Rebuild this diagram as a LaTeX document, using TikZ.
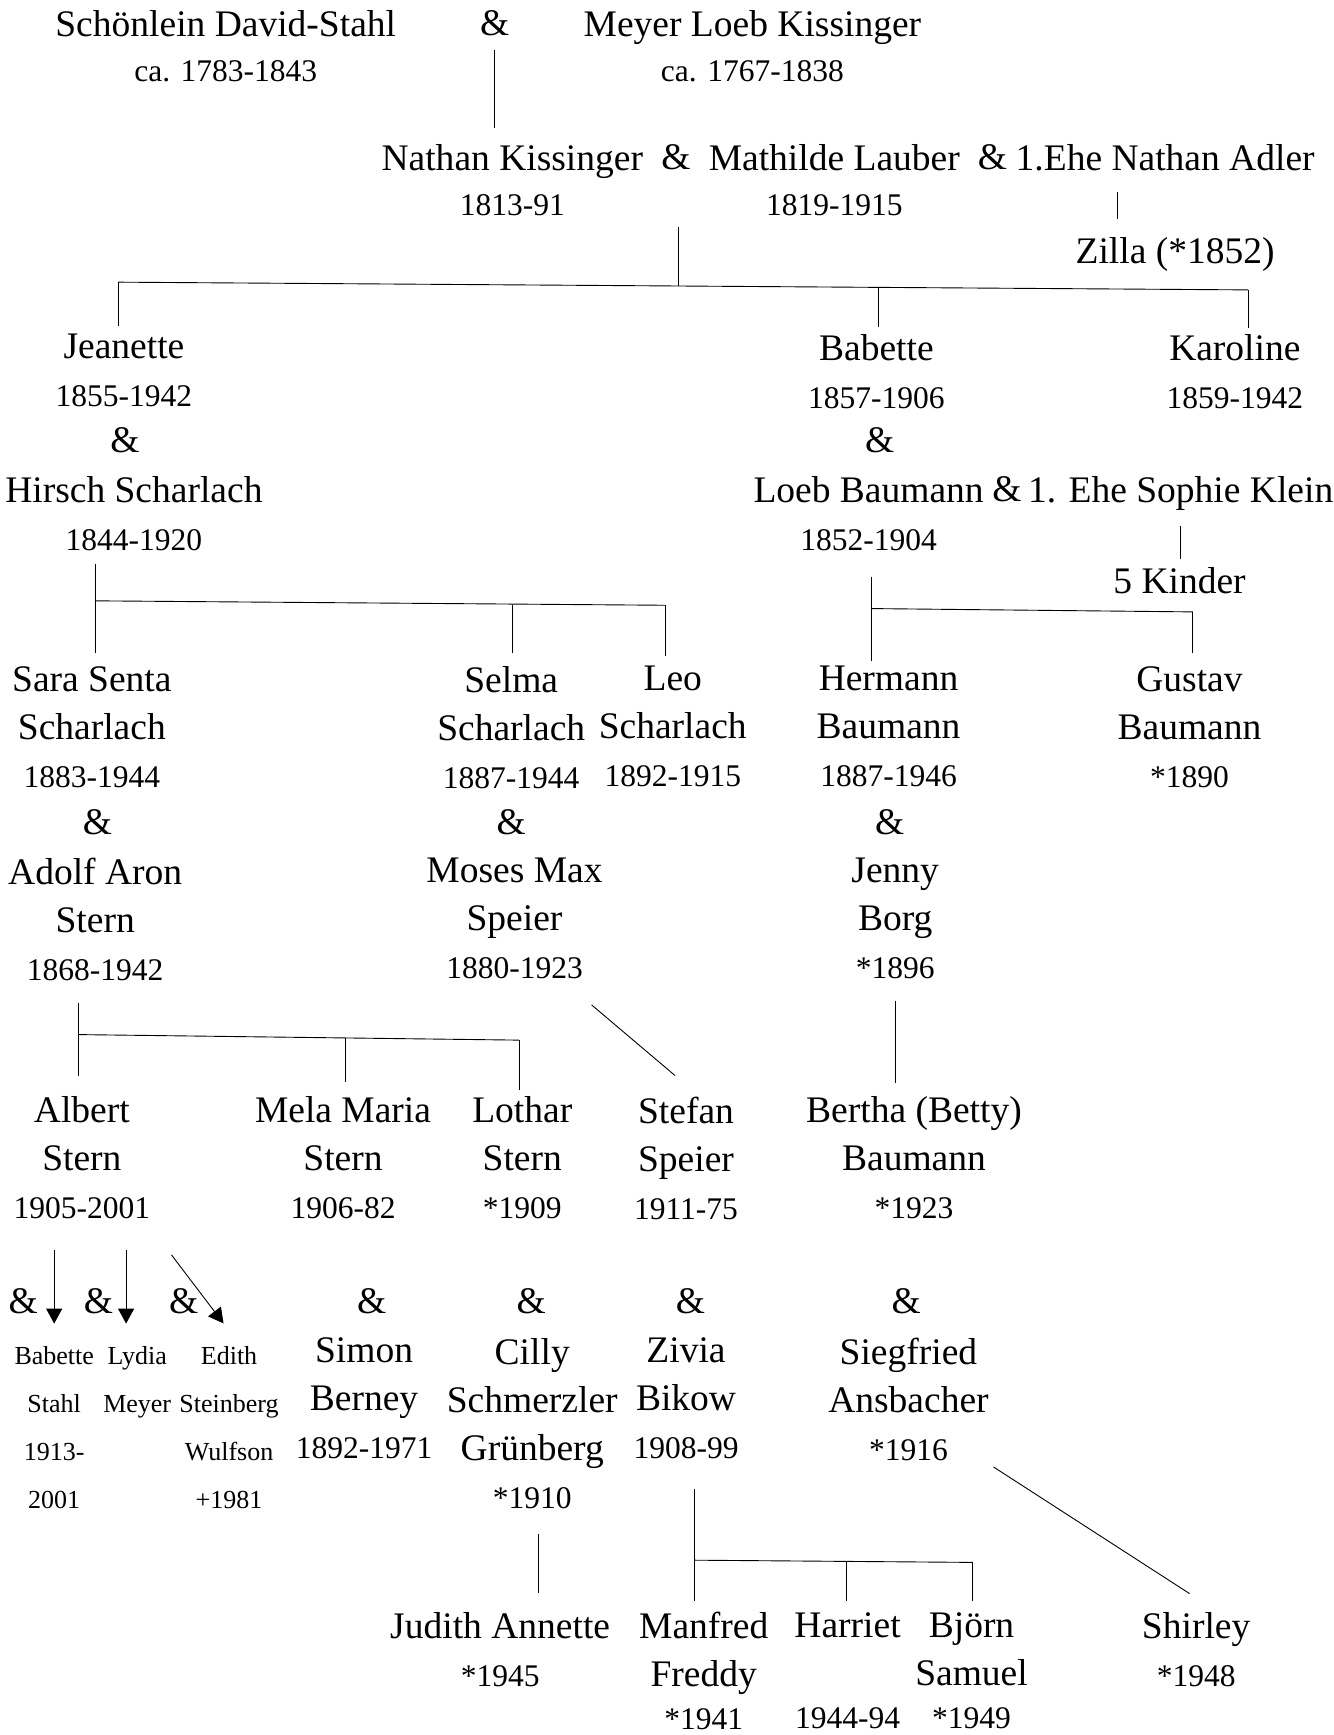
\documentclass[tikz,border=0pt]{standalone}
\usepackage{fontspec}
\setmainfont{Liberation Serif}
\usetikzlibrary{arrows.meta}
\newcommand\namefont{\fontsize{37.5}{48}\selectfont}
\newcommand\datefont{\fontsize{31.5}{48}\selectfont}
\newcommand\smallfont{\fontsize{26}{48}\selectfont}
\newcommand\dates[1]{{\datefont #1}}
\tikzstyle{person} = [align=center, inner sep=0pt, anchor=north, font=\namefont]
\tikzstyle{amp} = [inner sep=0pt, anchor=base, font=\namefont]
\tikzstyle{small} = [person, font=\smallfont]
\tikzstyle{line} = [draw, line width=0.9pt]
\tikzstyle{arrowline} = [line, -{Triangle[length=15pt, width=16pt]}]

\begin{document}
\begin{tikzpicture}[x=1.1062pt, y=-1.1062pt]
    \useasboundingbox (0,0) rectangle (1205,1568);

    % parents of Nathan
    \node [person] (david) at (204,9) {Schönlein David-Stahl\\[-3pt]\dates{ca. 1783-1843}};
    \node [amp] (amp0) at (447,32) {\&};
    \node [person] (meyer) at (680,9) {Meyer Loeb Kissinger\\[-3pt]\dates{ca. 1767-1838}};

    \node [person] (nathan) at (463,130) {Nathan Kissinger\\[-3pt]\dates{1813-91}};
    \node [amp] (amp1) at (611,153) {\&};
    \node [person] (mathilde) at (754,130) {Mathilde Lauber\\[-3pt]\dates{1819-1915}};
    \node [amp] (amp2) at (897,153) {\&};
    \node [person] (adler) at (1053,130) {1.Ehe Nathan Adler};
    \node [person] (zilla) at (1062,214) {Zilla (*1852)};

    % children of Nathan and Mathilde
    \node [person] (jeanette) at (112,302) {Jeanette\\\dates{1855-1942}};
    \node [amp] (amp3) at (113,409) {\&};
    \node [person] (hirsch) at (121,430) {Hirsch Scharlach\\\dates{1844-1920}};
    \node [person] (babette) at (792,302) {Babette\\\dates{1857-1906}};
    \node [amp] (amp4) at (795,409) {\&};
    \node [person] (loeb) at (785,430) {Loeb Baumann\\\dates{1852-1904}};
    \node [amp] (amp5) at (910,453) {\&};
    \node [person] (sophie) at (1067,430) {1. Ehe Sophie Klein};
    \node [person] (kinder) at (1066,513) {5 Kinder};
    \node [person] (karoline) at (1116,302) {Karoline\\\dates{1859-1942}};

    % grandchildren
    \node [person] (sara) at (83,602) {Sara Senta\\Scharlach\\\dates{1883-1944}};
    \node [amp] (amp6) at (88,754) {\&};
    \node [person] (adolf) at (86,775) {Adolf Aron\\Stern\\\dates{1868-1942}};
    \node [person] (selma) at (462,602) {Selma\\Scharlach\\\dates{1887-1944}};
    \node [amp] (amp7) at (462,754) {\&};
    \node [person] (moses) at (465,775) {Moses Max\\Speier\\\dates{1880-1923}};
    \node [person] (leo) at (608,602) {Leo\\Scharlach\\\dates{1892-1915}};
    \node [person] (hermann) at (803,602) {Hermann\\Baumann\\\dates{1887-1946}};
    \node [amp] (amp8) at (804,754) {\&};
    \node [person] (jenny) at (809,775) {Jenny\\Borg\\\dates{*1896}};
    \node [person] (gustav) at (1075,602) {Gustav\\Baumann\\\dates{*1890}};

    \node [person] (albert) at (74,991) {Albert\\Stern\\\dates{1905-2001}};
    \node [person] (mela) at (310,991) {Mela Maria\\Stern\\\dates{1906-82}};
    \node [person] (lothar) at (472,991) {Lothar\\Stern\\\dates{*1909}};
    \node [person] (stefan) at (620,991) {Stefan\\Speier\\\dates{1911-75}};
    \node [person] (bertha) at (826,991) {Bertha (Betty)\\Baumann\\\dates{*1923}};

    % spouses
    \node [amp] (amp9) at (21,1187) {\&};
    \node [amp] (amp10) at (89,1187) {\&};
    \node [amp] (amp11) at (166,1187) {\&};
    \node [amp] (amp12) at (336,1187) {\&};
    \node [amp] (amp13) at (480,1187) {\&};
    \node [amp] (amp14) at (624,1187) {\&};
    \node [amp] (amp15) at (819,1187) {\&};
    \node [small] (babstahl) at (49,1217) {Babette\\Stahl\\1913-\\2001};
    \node [small] (lydia) at (124,1217) {Lydia\\Meyer};
    \node [small] (edith) at (207,1217) {Edith\\Steinberg\\Wulfson\\+1981};
    \node [person] (simon) at (329,1209) {Simon\\Berney\\\dates{1892-1971}};
    \node [person] (cilly) at (481,1209) {Cilly\\Schmerzler\\Grünberg\\\dates{*1910}};
    \node [person] (zivia) at (620,1209) {Zivia\\Bikow\\\dates{1908-99}};
    \node [person] (siegfried) at (821,1209) {Siegfried\\Ansbacher\\\dates{*1916}};

    % great-grandchildren
    \node [person] (judith) at (452,1457) {Judith Annette\\\dates{*1945}};
    \node [person] (manfred) at (636,1457) {Manfred\\Freddy\\[-5pt]\dates{*1941}};
    \node [person] (harriet) at (766,1457) {Harriet\\\mbox{}\\[-5pt]\dates{1944-94}};
    \node [person] (bjoern) at (878,1457) {Björn\\Samuel\\[-5pt]\dates{*1949}};
    \node [person] (shirley) at (1081,1457) {Shirley\\\dates{*1948}};

    % junctions
    \coordinate (kidsL) at (107,255);
    \coordinate (kidsM) at (613,258.5);
    \coordinate (kidsR) at (1128,262);
    \coordinate (babJ) at (794,259.7);
    \coordinate (schJ) at (86,543);
    \coordinate (selJ) at (463,546.5);
    \coordinate (leoJ) at (601,547);
    \coordinate (bauJ) at (788,550);
    \coordinate (gusJ) at (1078,553);
    \coordinate (sternJ) at (71,935);
    \coordinate (melaJ) at (312,937.8);
    \coordinate (lotJ) at (469,940);
    \coordinate (zivJ) at (628,1410);
    \coordinate (harJ) at (765,1411.2);
    \coordinate (bjoJ) at (879,1412);

    \draw [line, shorten <=14pt, shorten >=16pt] (amp0.south) -- (amp0.south |- nathan.north);
    \draw [line, shorten <=21pt, shorten >=18pt] ([xshift=-47.6pt]adler.south) -- ([xshift=-47.6pt]adler.south |- zilla.north);
    \draw [line, shorten <=57pt] (amp1.south -| kidsM) -- (kidsM);
    \draw [line] (kidsL) -- (kidsR);
    \draw [line, shorten >=8pt] (kidsL) -- (kidsL |- jeanette.north);
    \draw [line, shorten >=7.6pt] (babJ) -- (babJ |- babette.north);
    \draw [line, shorten >=6.5pt] (kidsR) -- (kidsR |- karoline.north);

    \draw [line, shorten <=13pt, shorten >=13pt] (hirsch.south -| schJ) -- (schJ |- sara.north);
    \draw [line] (schJ) -- (leoJ);
    \draw [line, shorten >=13pt] (selJ) -- (selJ |- selma.north);
    \draw [line, shorten >=10.6pt] (leoJ) -- (leoJ |- leo.north);

    \draw [line, shorten <=26pt, shorten >=5.4pt] (loeb.south -| bauJ) -- (bauJ |- hermann.north);
    \draw [line] (bauJ) -- (gusJ);
    \draw [line, shorten >=13pt] (gusJ) -- (gusJ |- gustav.north);
    \draw [line, shorten <=16pt, shorten >=8.7pt] (sophie.south) -- (sophie.south |- kinder.north);

    \draw [line, shorten <=22pt, shorten >=21pt] (adolf.south -| sternJ) -- (sternJ |- albert.north);
    \draw [line] (sternJ) -- (lotJ);
    \draw [line, shorten >=15pt] (melaJ) -- (melaJ |- mela.north);
    \draw [line, shorten >=6.5pt] (lotJ) -- (lotJ |- lothar.north);
    \draw [line] ([xshift=77pt, yshift=-26pt]moses.south) -- ([xshift=-11pt, yshift=21pt]stefan.north);
    \draw [line, shorten <=22pt, shorten >=14pt] (jenny.south) -- (jenny.south |- bertha.north);

    \draw [arrowline, shorten <=31pt, shorten >=23pt] ([xshift=-27.7pt]albert.south) -- ([xshift=-27.7pt]albert.south |- babstahl.north);
    \draw [arrowline, shorten <=31pt, shorten >=23pt] ([xshift=44.2pt]albert.south) -- ([xshift=44.2pt]albert.south |- lydia.north);
    \draw [arrowline] ([xshift=89.6pt, yshift=-35.6pt]albert.south) -- ([xshift=-5.5pt, yshift=23.2pt]edith.north);

    \draw [line, shorten <=25pt, shorten >=19pt] ([xshift=6.6pt]cilly.south) -- ([xshift=6.6pt]cilly.south |- judith.north);
    \draw [line, shorten <=30pt, shorten >=11pt] (zivia.south -| zivJ) -- (zivJ |- manfred.north);
    \draw [line] (zivJ) -- (bjoJ);
    \draw [line, shorten >=11pt] (harJ) -- (harJ |- harriet.north);
    \draw [line, shorten >=11pt] (bjoJ) -- (bjoJ |- bjoern.north);
    \draw [line] ([xshift=85pt, yshift=-6pt]siegfried.south) -- ([xshift=-6.6pt, yshift=18.6pt]shirley.north);
\end{tikzpicture}
\end{document}
